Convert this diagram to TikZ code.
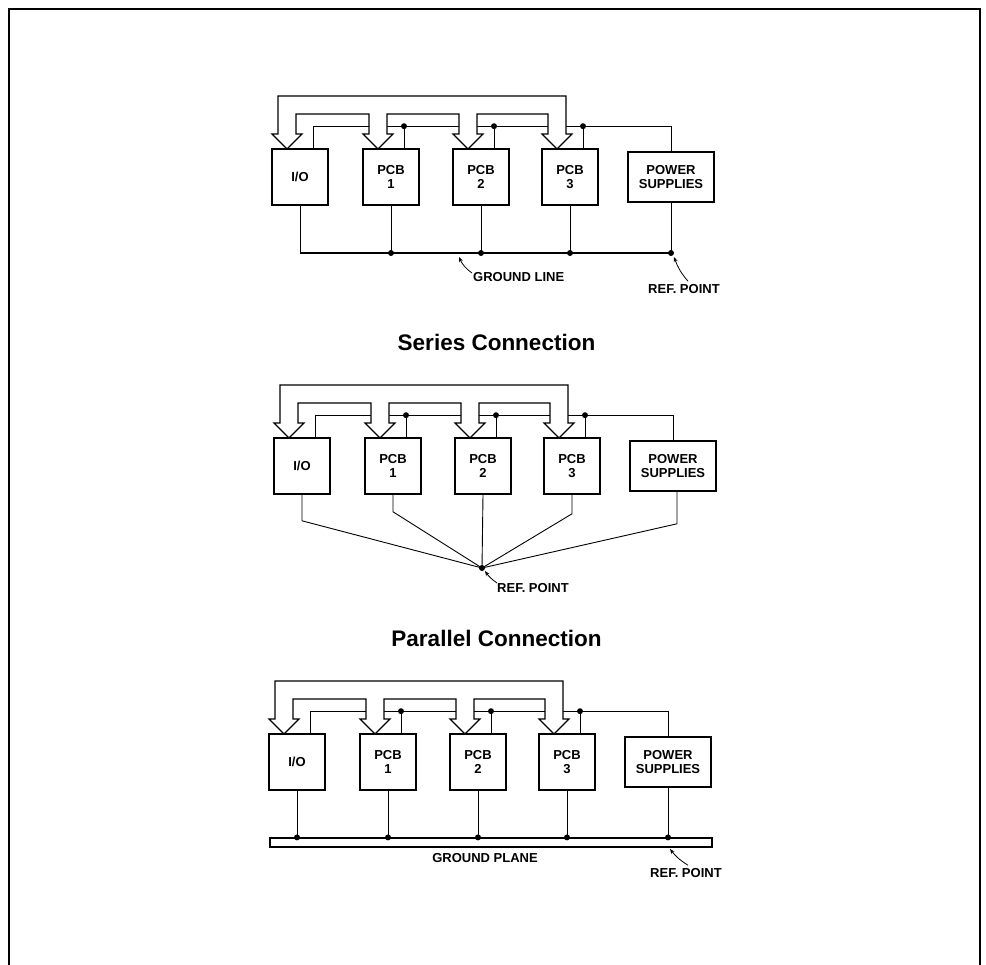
\documentclass[tikz,border=0pt]{standalone}
\usepackage{fontspec}
\setmainfont{Liberation Sans}
\usetikzlibrary{arrows.meta}
\tikzset{
 box/.style={draw, line width=1.6pt, minimum width=56pt, minimum height=56pt, inner sep=0pt, align=center, font=\fontsize{13}{14}\selectfont\bfseries},
 psbox/.style={box, minimum width=86pt, minimum height=50pt},
 wire/.style={line width=0.9pt},
 gwire/.style={line width=1.3pt},
 bus/.style={line width=1.1pt, fill=white, line join=miter},
 dot/.style={circle, fill, inner sep=0pt, minimum size=6pt},
 lbl/.style={font=\fontsize{13}{14}\selectfont\bfseries, inner sep=0pt},
 ttl/.style={font=\fontsize{22.5}{26}\selectfont\bfseries, inner sep=0pt},
 leader/.style={line width=0.8pt, -{Stealth[length=5pt,width=4pt]}},
}
\newcommand\busrow[1]{%
 \node[box] (#1io) at (300,28) {I/O};
 \node[box] (#1p1) at (391,28) {PCB\\1};
 \node[box] (#1p2) at (481,28) {PCB\\2};
 \node[box] (#1p3) at (570,28) {PCB\\3};
 \node[psbox] (#1ps) at (671,28) {POWER\\SUPPLIES};
 \draw[wire] ([xshift=13pt]#1io.north) -- ++(0,-22) coordinate (#1w0) -| (#1ps.north);
 \foreach \n in {p1,p2,p3}{\draw[wire] ([xshift=13pt]#1\n.north) -- ++(0,-22) node[dot]{};}
 \draw[bus] (278,-15) -- (278,-53) -- (566,-53) -- (566,-15) -- (572,-15) -- (557,0) -- (542,-15) -- (548,-15) -- (548,-35) -- (477,-35) -- (477,-15) -- (483,-15) -- (468,0) -- (453,-15) -- (459,-15) -- (459,-35) -- (387,-35) -- (387,-15) -- (393,-15) -- (378,0) -- (363,-15) -- (369,-15) -- (369,-35) -- (296,-35) -- (296,-15) -- (302,-15) -- (287,0) -- (272,-15) -- cycle;
}
\begin{document}
\begin{tikzpicture}[x=1pt,y=-1pt]
\useasboundingbox (0,0) rectangle (986,965);
\draw[line width=2pt] (9,965) -- (9,9) -- (980,9) -- (980,965);
% ---------- Series ----------
\begin{scope}[shift={(0,149)}]
 \busrow{a}
 \draw[wire] (aio.south) -- (aio.south |- 0,104) coordinate (ag);
 \draw[gwire] (ag) -- (ag -| aps.south) node[dot]{};
 \draw[wire] (aps.south) -- (aps.south |- ag);
 \foreach \n in {p1,p2,p3}{\draw[wire] (a\n.south) -- (a\n.south |- ag) node[dot]{};}
\end{scope}
\node[lbl, anchor=west] (agl) at (473,277) {GROUND LINE};
\node[lbl, anchor=west] (arp) at (648,289) {REF. POINT};
\draw[leader] (agl.west) ++(-1,-4) to[bend left=15] (459,257);
\draw[leader] (arp.north) ++(4,-3) to[bend left=10] (674,257);
\node[ttl] (t1) at (496.5,342) {Series Connection};
% ---------- Parallel ----------
\begin{scope}[shift={(2,438)}]
 \busrow{b}
 \node[dot] (brp) at (480,130) {};
 \draw[wire] (bio.south) -- ++(0,26) -- (brp.center);
 \draw[wire] (bp1.south) -- ++(0,17) -- (brp.center);
 \draw[wire] (bp2.south) -- (brp.center);
 \draw[wire] (bp3.south) -- ++(0,19) -- (brp.center);
 \draw[wire] ([xshift=4pt]bps.south) -- ++(0,32) -- (brp.center);
\end{scope}
\node[lbl, anchor=west] (brl) at (497,588) {REF. POINT};
\draw[leader] (brl.west) ++(0,-5) to[bend left=10] (485,571);
\node[ttl] (t2) at (496.5,638) {Parallel Connection};
% ---------- Ground plane ----------
\begin{scope}[shift={(-3,734)}]
 \busrow{c}
 \node[draw, line width=1.2pt, minimum width=442pt, minimum height=9pt, inner sep=0pt] (cgp) at (494,108.5) {};
 \foreach \n in {io,p1,p2,p3,ps}{\draw[wire] (c\n.south) -- (c\n.south |- cgp.north) node[dot]{};}
\end{scope}
\node[lbl] (cgl) at (485,858) {GROUND PLANE};
\node[lbl, anchor=west] (crp) at (650,873) {REF. POINT};
\draw[leader] (crp.north) ++(2,-3) to[bend left=10] (670,849);
\end{tikzpicture}
\end{document}
